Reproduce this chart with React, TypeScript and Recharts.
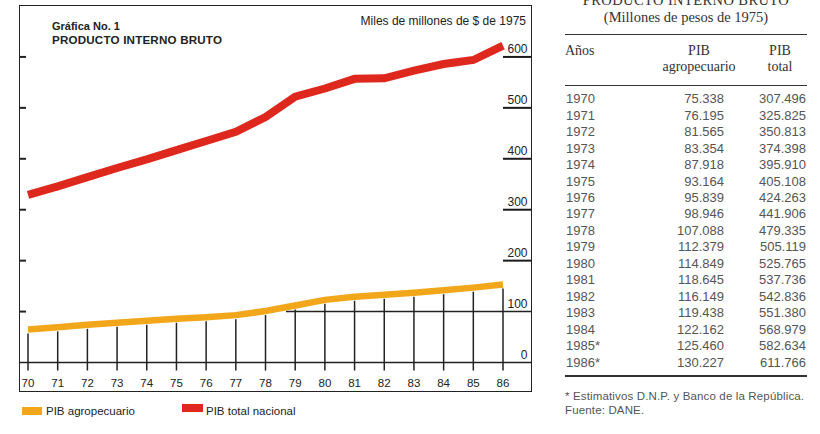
import React from 'react';
import { LineChart, Line, XAxis, YAxis, ReferenceLine } from 'recharts';

// ---------- data ----------
const YEARS = [1970, 1971, 1972, 1973, 1974, 1975, 1976, 1977, 1978, 1979, 1980, 1981, 1982, 1983, 1984, 1985, 1986];
const X_TICK_LABELS = ['70', '71', '72', '73', '74', '75', '76', '77', '78', '79', '80', '81', '82', '83', '84', '85', '86'];
const Y_TICKS = [0, 100, 200, 300, 400, 500, 600];

// values as drawn on the chart (miles de millones de $ de 1975)
const CHART_AGRO = [65, 69, 74, 78, 82, 86, 89, 93, 101, 112, 123, 129, 133, 137, 142, 147, 153];
const CHART_TOTAL = [329, 346, 364, 382, 399, 417, 435, 453, 482, 522, 538, 557, 558, 573, 586, 594, 622];

// table values (millones de pesos de 1975)
const TABLE_YEAR_LABELS = ['1970', '1971', '1972', '1973', '1974', '1975', '1976', '1977', '1978', '1979', '1980', '1981', '1982', '1983', '1984', '1985*', '1986*'];
const TABLE_AGRO = [75338, 76195, 81565, 83354, 87918, 93164, 95839, 98946, 107088, 112379, 114849, 118645, 116149, 119438, 122162, 125460, 130227];
const TABLE_TOTAL = [307496, 325825, 350813, 374398, 395910, 405108, 424263, 441906, 479335, 505119, 525765, 537736, 542836, 551380, 568979, 582634, 611766];

const chartData = YEARS.map((year, i) => ({ year, agro: CHART_AGRO[i], total: CHART_TOTAL[i] }));

// ---------- layout ----------
const SANS = '"Liberation Sans", Arial, Helvetica, sans-serif';
const SERIF = '"Liberation Serif", "Times New Roman", serif';
const INK = '#222';
const RED = '#df281d';
const ORANGE = '#f2a61a';
const PLOT_LEFT = 20;
const PLOT_RIGHT = 531;
const ZERO_Y = 362.5;
const X_DOMAIN: [number, number] = [1969.73, 1986.943];

const fmt = (n: number) => Math.floor(n / 1000) + '.' + String(n % 1000).padStart(3, '0');

function YTick(props: any) {
  const { y, payload } = props;
  const v = payload ? Number(payload.value) : 0;
  return (
    <g>
      {v > 0 && (
        <line x1={PLOT_LEFT} x2={PLOT_LEFT + 6} y1={y} y2={y} stroke={INK} strokeWidth={2} />
      )}
      {v >= 200 && (
        <line x1={503} x2={PLOT_RIGHT} y1={y} y2={y} stroke="#1a1a1a" strokeWidth={2} />
      )}
      <text x={527.5} y={y - 3.5} textAnchor="end" fontFamily={SANS} fontSize={12} fill={INK}>
        {v}
      </text>
    </g>
  );
}

function DropLine(props: any) {
  const { cx, cy } = props;
  if (cx == null || cy == null) return null;
  return <line x1={cx} x2={cx} y1={cy + 4} y2={ZERO_Y + 8} stroke={INK} strokeWidth={1.5} />;
}

function Chart() {
  return (
    <LineChart
      width={560}
      height={400}
      data={chartData}
      margin={{ top: 6, right: 28, left: 20, bottom: 7.5 }}
    >
      <XAxis
        dataKey="year"
        type="number"
        domain={X_DOMAIN}
        ticks={YEARS}
        interval={0}
        allowDataOverflow
        tickFormatter={(v: number) => X_TICK_LABELS[YEARS.indexOf(v)]}
        axisLine={false}
        tickLine={false}
        height={30}
        tickMargin={10}
        tick={{ fill: INK, fontSize: 11.5, fontFamily: SANS }}
      />
      <YAxis
        orientation="right"
        width={1}
        domain={[0, 700]}
        ticks={Y_TICKS}
        interval={0}
        axisLine={false}
        tickLine={false}
        tick={<YTick />}
      />
      <ReferenceLine y={0} stroke={INK} strokeWidth={1.5} />
      <ReferenceLine
        segment={[{ x: 1978.69, y: 100 }, { x: X_DOMAIN[1], y: 100 }]}
        stroke={INK}
        strokeWidth={1.5}
      />
      <Line
        dataKey="agro"
        stroke="none"
        dot={(p: any) => <DropLine key={'d' + p.index} {...p} />}
        activeDot={false}
        isAnimationActive={false}
        legendType="none"
      />
      <Line
        dataKey="agro"
        stroke={ORANGE}
        strokeWidth={6.5}
        dot={false}
        activeDot={false}
        isAnimationActive={false}
        type="linear"
      />
      <Line
        dataKey="total"
        stroke={RED}
        strokeWidth={8}
        dot={false}
        activeDot={false}
        isAnimationActive={false}
        type="linear"
      />
    </LineChart>
  );
}

const abs = (s: React.CSSProperties): React.CSSProperties => ({ position: 'absolute', whiteSpace: 'nowrap', ...s });

export default function App() {
  const rowH = 16.45;
  return (
    <div style={{ position: 'absolute', left: 0, top: 0, width: 820, height: 434, background: '#fff', overflow: 'hidden' }}>
      {/* chart frame */}
      <div style={abs({ left: 19.25, top: 5.25, width: 512.5, height: 386.5, border: '1.5px solid ' + INK, boxSizing: 'border-box' })} />
      <div style={abs({ left: 0, top: 0 })}>
        <Chart />
      </div>
      {/* chart titles */}
      <div style={abs({ left: 52, top: 19.5, fontFamily: SANS, fontSize: 11, fontWeight: 700, color: INK, lineHeight: '13px' })}>Gráfica No. 1</div>
      <div style={abs({ left: 52, top: 33, fontFamily: SANS, fontSize: 11.6, fontWeight: 700, color: INK, lineHeight: '14px', letterSpacing: 0.2 })}>PRODUCTO INTERNO BRUTO</div>
      <div style={abs({ right: 820 - 526, top: 14, fontFamily: SANS, fontSize: 12, color: INK, lineHeight: '14px' })}>Miles de millones de $ de 1975</div>
      {/* legend */}
      <div style={abs({ left: 22, top: 407, width: 20, height: 8, background: ORANGE })} />
      <div style={abs({ left: 46, top: 404, fontFamily: SANS, fontSize: 11.5, color: INK, lineHeight: '14px' })}>PIB agropecuario</div>
      <div style={abs({ left: 182, top: 403.5, width: 21, height: 8, background: RED })} />
      <div style={abs({ left: 206, top: 404, fontFamily: SANS, fontSize: 11.5, color: INK, lineHeight: '14px' })}>PIB total nacional</div>

      {/* table */}
      <div style={abs({ left: 560, width: 252, top: -7, textAlign: 'center', fontFamily: SERIF, fontSize: 14.5, color: '#333', lineHeight: '14px', letterSpacing: 0.4 })}>PRODUCTO INTERNO BRUTO</div>
      <div style={abs({ left: 560, width: 252, top: 9, textAlign: 'center', fontFamily: SERIF, fontSize: 14.5, color: '#333', lineHeight: '16px' })}>(Millones de pesos de 1975)</div>
      <div style={abs({ left: 565, top: 33.5, width: 242, height: 1.6, background: '#333' })} />
      <div style={abs({ left: 565, top: 43, fontFamily: SERIF, fontSize: 14, color: '#333', lineHeight: '16px' })}>Años</div>
      <div style={abs({ left: 649, width: 100, top: 43, textAlign: 'center', fontFamily: SERIF, fontSize: 14, color: '#333', lineHeight: '16px' })}>PIB</div>
      <div style={abs({ left: 649, width: 100, top: 59, textAlign: 'center', fontFamily: SERIF, fontSize: 14, color: '#333', lineHeight: '16px' })}>agropecuario</div>
      <div style={abs({ left: 740, width: 80, top: 43, textAlign: 'center', fontFamily: SERIF, fontSize: 14, color: '#333', lineHeight: '16px' })}>PIB</div>
      <div style={abs({ left: 740, width: 80, top: 59, textAlign: 'center', fontFamily: SERIF, fontSize: 14, color: '#333', lineHeight: '16px' })}>total</div>
      <div style={abs({ left: 565, top: 84.5, width: 242, height: 1.4, background: '#333' })} />
      {TABLE_YEAR_LABELS.map((lab, i) => (
        <React.Fragment key={lab}>
          <div style={abs({ left: 566, top: 91.3 + i * rowH, fontFamily: SANS, fontSize: 13, color: '#555', lineHeight: rowH + 'px' })}>{lab}</div>
          <div style={abs({ right: 820 - 724, top: 91.3 + i * rowH, fontFamily: SANS, fontSize: 13, color: '#555', lineHeight: rowH + 'px' })}>{fmt(TABLE_AGRO[i])}</div>
          <div style={abs({ right: 820 - 806, top: 91.3 + i * rowH, fontFamily: SANS, fontSize: 13, color: '#555', lineHeight: rowH + 'px' })}>{fmt(TABLE_TOTAL[i])}</div>
        </React.Fragment>
      ))}
      <div style={abs({ left: 565, top: 375, width: 242, height: 2, background: '#333' })} />
      <div style={abs({ left: 565, top: 389, fontFamily: SANS, fontSize: 11.5, color: '#555', lineHeight: '14px', letterSpacing: 0.15 })}>* Estimativos D.N.P. y Banco de la República.</div>
      <div style={abs({ left: 565, top: 403, fontFamily: SANS, fontSize: 11.5, color: '#555', lineHeight: '14px', letterSpacing: 0.15 })}>Fuente: DANE.</div>
    </div>
  );
}
